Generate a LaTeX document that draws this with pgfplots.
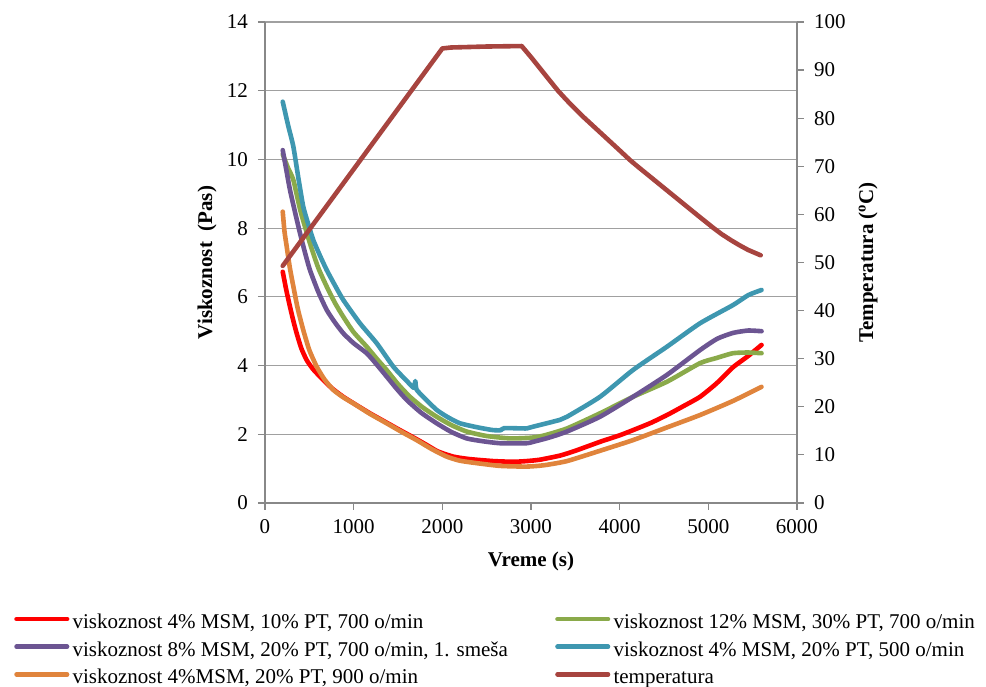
\documentclass[border=0pt]{standalone}
\usepackage{fontspec}
\setmainfont{Liberation Serif}
\usepackage{pgfplots}
\pgfplotsset{compat=1.18}
\usepackage{pgfplotstable}

\definecolor{cRed}{HTML}{FF0000}
\definecolor{cGreen}{HTML}{8AAA4A}
\definecolor{cPurple}{HTML}{6C5592}
\definecolor{cCyan}{HTML}{3E97B0}
\definecolor{cOrange}{HTML}{E0843C}
\definecolor{cTemp}{HTML}{A7443F}
\definecolor{gridgray}{HTML}{A0A0A0}
\definecolor{axisgray}{HTML}{888888}

\pgfplotstableread{
x y
200 6.73
240 6.20
282 5.71
320 5.30
357 4.94
410 4.50
470 4.16
540 3.90
620 3.68
750 3.35
883 3.09
1000 2.90
1184 2.61
1350 2.37
1523 2.12
1680 1.90
1823 1.69
1950 1.50
2124 1.35
2300 1.28
2575 1.22
2800 1.20
2951 1.22
3100 1.26
3327 1.38
3500 1.52
3778 1.78
4000 1.97
4150 2.12
4350 2.33
4534 2.56
4720 2.82
4906 3.09
5092 3.48
5278 3.95
5450 4.28
5600 4.60
}\datRed

\pgfplotstableread{
x y
200 10.15
260 9.75
320 9.40
400 8.50
507 7.56
600 6.85
696 6.30
790 5.82
883 5.42
1000 4.97
1147 4.55
1260 4.20
1372 3.87
1500 3.46
1635 3.09
1780 2.78
1936 2.51
2100 2.27
2274 2.08
2500 1.95
2763 1.88
3000 1.90
3139 1.96
3406 2.17
3778 2.61
4150 3.09
4534 3.53
4906 4.07
5092 4.22
5278 4.36
5450 4.38
5600 4.36
}\datGreen

\pgfplotstableread{
x y
200 10.27
240 9.70
282 9.11
340 8.45
395 7.85
450 7.30
507 6.78
600 6.15
696 5.62
790 5.25
883 4.94
1000 4.65
1147 4.36
1260 4.03
1372 3.68
1480 3.34
1598 3.00
1760 2.63
1936 2.32
2100 2.07
2274 1.88
2450 1.80
2650 1.74
2951 1.74
3023 1.78
3200 1.90
3406 2.08
3778 2.51
4150 3.09
4534 3.73
4906 4.45
5100 4.78
5278 4.95
5450 5.02
5600 5.00
}\datPurple

\pgfplotstableread{
x y
200 11.68
260 11.00
320 10.37
380 9.40
432 8.62
490 8.10
545 7.65
620 7.20
696 6.78
790 6.33
883 5.91
1071 5.23
1260 4.65
1447 3.97
1600 3.55
1680 3.35
1695 3.55
1710 3.30
1800 3.05
1936 2.71
2060 2.50
2199 2.32
2400 2.20
2575 2.12
2660 2.12
2700 2.18
2951 2.17
3023 2.22
3327 2.42
3406 2.51
3778 3.09
4150 3.87
4534 4.55
4906 5.23
5278 5.76
5450 6.05
5600 6.20
}\datCyan

\pgfplotstableread{
x y
200 8.48
220 7.90
245 7.46
280 6.85
320 6.30
370 5.65
432 5.03
500 4.45
583 3.97
670 3.60
771 3.29
880 3.08
996 2.90
1180 2.60
1372 2.32
1540 2.07
1710 1.83
1880 1.57
2049 1.35
2200 1.23
2387 1.16
2650 1.08
2951 1.06
3150 1.10
3406 1.22
3778 1.52
4150 1.83
4534 2.20
4906 2.56
5278 2.97
5600 3.38
}\datOrange

\pgfplotstableread{
x y
200 49.3
2000 94.5
2100 94.7
2500 94.9
2895 95.0
3000 92.7
3100 90.4
3200 88.1
3305 85.7
3400 83.8
3500 81.9
3600 80.1
3700 78.4
3800 76.7
3900 75.0
4000 73.3
4116 71.3
4200 70.0
4300 68.5
4400 67.0
4500 65.5
4600 64.0
4700 62.5
4800 61.0
4900 59.5
5056 57.2
5150 55.9
5250 54.7
5350 53.6
5450 52.6
5590 51.5
}\datTemp

\begin{document}
\fontsize{21}{25}\selectfont
\begin{tikzpicture}
\path[use as bounding box] (-265pt,-184pt) rectangle (721pt,503pt);
\begin{axis}[
  scale only axis, width=532pt, height=481pt,
  at={(0pt,0pt)}, anchor=south west,
  xmin=0, xmax=6000, ymin=0, ymax=14,
  axis x line*=bottom, axis y line*=left,
  axis line style={axisgray, line width=1.2pt, -},
  xtick={0,1000,...,6000}, ytick={0,2,...,14},
  ymajorgrids, grid style={gridgray, line width=1.2pt},
  tick align=outside, major tick length=7pt,
  tick style={axisgray, line width=1.2pt},
  tick label style={inner sep=0pt},
  xticklabel style={yshift=-9pt},
  yticklabel style={xshift=-10pt},
  /pgf/number format/assume math mode=true,
  /pgf/number format/1000 sep={},
  scaled x ticks=false, scaled y ticks=false,
  xlabel={\textbf{Vreme (s)}},
  ylabel={\textbf{Viskoznost\ \ (Pas)}},
  every axis x label/.style={at={(axis description cs:0.5,-0.1206)}, anchor=center},
  every axis y label/.style={at={(axis description cs:-0.109,0.5)}, rotate=90, anchor=center},
  every axis plot/.append style={line width=4.6pt, line join=round, line cap=round, smooth, tension=0.35},
]
\addplot[cRed] table {\datRed};
\addplot[cGreen] table {\datGreen};
\addplot[cPurple] table {\datPurple};
\addplot[cCyan] table {\datCyan};
\addplot[cOrange] table {\datOrange};
\end{axis}
\begin{axis}[
  scale only axis, width=532pt, height=481pt,
  at={(0pt,0pt)}, anchor=south west,
  xmin=0, xmax=6000, ymin=0, ymax=100,
  axis x line=none, axis y line*=right,
  axis line style={axisgray, line width=1.2pt, -},
  ytick={0,10,...,100},
  tick align=outside, major tick length=7pt,
  tick style={axisgray, line width=1.2pt},
  tick label style={inner sep=0pt},
  yticklabel style={xshift=10pt},
  /pgf/number format/assume math mode=true,
  ylabel={\textbf{Temperatura (\textsuperscript{o}C)}},
  every axis y label/.style={at={(axis description cs:1.1335,0.5)}, rotate=90, anchor=center},
  every axis plot/.append style={line width=4.6pt, line join=round, line cap=round},
  legend columns=2,
  legend cell align=left,
  legend image code/.code={\draw[#1, line width=4.6pt, line cap=round] (0pt,5pt) -- (50.5pt,5pt);},
  legend style={draw=none, fill=none, at={(axis description cs:-0.4713,-0.232)}, anchor=north west,
    inner sep=0pt, outer sep=0pt, row sep=8.65pt,
    nodes={inner sep=0pt, text height=14pt, text depth=5pt},
    /tikz/every odd column/.append style={column sep=3.25pt},
    /tikz/every even column/.append style={column sep=47.25pt}},
]
\addlegendimage{cRed}\addlegendentry{viskoznost 4\% MSM, 10\% PT, 700 o/min}
\addlegendimage{cGreen}\addlegendentry{viskoznost 12\% MSM, 30\% PT, 700 o/min}
\addlegendimage{cPurple}\addlegendentry{viskoznost 8\% MSM, 20\% PT, 700 o/min, 1. smeša}
\addlegendimage{cCyan}\addlegendentry{viskoznost 4\% MSM, 20\% PT, 500 o/min}
\addlegendimage{cOrange}\addlegendentry{viskoznost 4\%MSM, 20\% PT, 900 o/min}
\addplot[cTemp] table {\datTemp};
\addlegendentry{temperatura}
\end{axis}
\end{tikzpicture}
\end{document}
